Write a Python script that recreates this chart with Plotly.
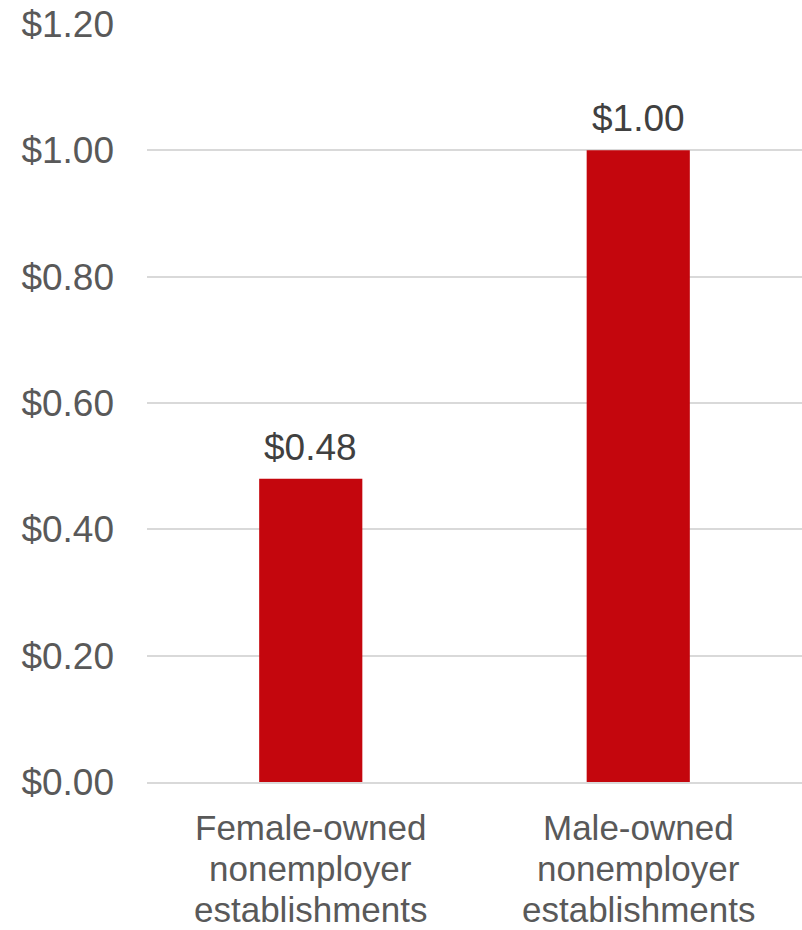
import plotly.graph_objects as go

categories = ["Female-owned<br>nonemployer<br>establishments",
              "Male-owned<br>nonemployer<br>establishments"]
values = [0.48, 1.00]
tick_values = [0.0, 0.2, 0.4, 0.6, 0.8, 1.0, 1.2]
tick_labels = ["$%.2f" % v for v in tick_values]

FONT = "Liberation Sans, Arial, sans-serif"
BAR_COLOR = "#C4060D"
AXIS_TEXT = "#595959"

fig = go.Figure()
fig.add_trace(go.Bar(
    x=categories,
    y=values,
    marker=dict(color=BAR_COLOR, line=dict(width=0)),
    hoverinfo="skip",
))

# value labels above each bar
for cat, val in zip(categories, values):
    fig.add_annotation(
        x=cat, y=val, text="$%.2f" % val,
        showarrow=False, yanchor="bottom", yshift=9,
        font=dict(family=FONT, size=37, color="#404040"),
    )

# category labels, one line per annotation for tighter line spacing
for cat in categories:
    for i, line in enumerate(cat.split("<br>")):
        fig.add_annotation(
            x=cat, y=0, text=line,
            showarrow=False, yanchor="middle", yshift=-(45 + 41 * i),
            font=dict(family=FONT, size=35, color=AXIS_TEXT),
        )

fig.update_layout(
    width=802, height=930,
    margin=dict(l=147, r=0, t=24, b=148),
    paper_bgcolor="white", plot_bgcolor="white",
    bargap=0.685,
    showlegend=False,
    font=dict(family=FONT, size=35, color=AXIS_TEXT),
)
fig.update_xaxes(
    showgrid=False, showline=True, linecolor="#D9D9D9", linewidth=1.5,
    ticks="", showticklabels=False,
)
fig.update_yaxes(
    range=[0, 1.2], tickvals=tick_values, ticktext=tick_labels,
    showgrid=True, gridcolor="#D9D9D9", gridwidth=1.5,
    zeroline=False, showline=False, ticks="",
    ticklabelstandoff=32,
    tickfont=dict(family=FONT, size=37, color=AXIS_TEXT),
)

fig.write_html("out.html")
